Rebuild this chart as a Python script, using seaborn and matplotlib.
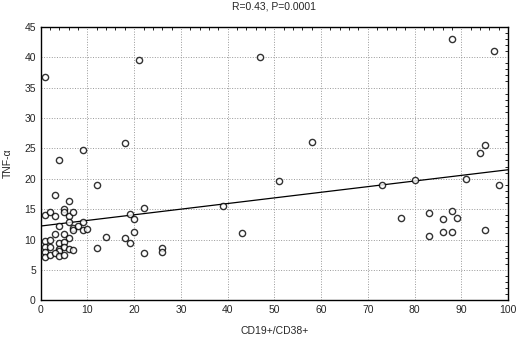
import numpy as np
import pandas as pd
import matplotlib
matplotlib.use('Agg')
import matplotlib.pyplot as plt
import seaborn as sns
from matplotlib.ticker import MultipleLocator

# CD19+/CD38+ (%) vs TNF-alpha
cd19_cd38 = [1, 21, 47, 4, 9, 18, 88, 97, 58, 95, 94,
             12, 3, 6, 1, 2, 3, 5, 5, 6, 7,
             4, 6, 7, 7, 8, 9, 9, 10,
             3, 5, 6, 1, 2, 4, 5,
             1, 2, 4, 5, 6, 7, 4,
             1, 1, 2, 3, 4, 5,
             12, 14, 18, 19, 19, 20, 20, 22, 22, 26, 26,
             39, 43, 51, 73, 80, 91, 98,
             77, 83, 88, 86, 89, 83, 86, 88, 95]
tnf_alpha = [36.7, 39.5, 40.0, 23.0, 24.7, 25.8, 43.0, 41.0, 26.0, 25.5, 24.2,
             19.0, 17.4, 16.4, 14.1, 14.5, 13.9, 15.0, 14.5, 13.9, 14.5,
             12.3, 12.8, 11.9, 11.5, 12.3, 12.8, 11.6, 11.7,
             10.9, 10.9, 10.2, 9.8, 10.0, 9.4, 9.6,
             8.8, 8.8, 8.5, 8.8, 8.5, 8.2, 8.1,
             7.9, 7.2, 7.5, 7.7, 7.3, 7.5,
             8.6, 10.4, 10.3, 9.5, 14.2, 13.4, 11.3, 15.2, 7.8, 8.6, 7.9,
             15.5, 11.0, 19.7, 19.0, 19.8, 20.0, 18.9,
             13.6, 14.4, 14.7, 13.3, 13.5, 10.6, 11.2, 11.2, 11.6]

df = pd.DataFrame({'cd': cd19_cd38, 'tnf': tnf_alpha})

sns.set_style("white")
plt.rcParams['font.family'] = ['Liberation Sans', 'DejaVu Sans']

fig = plt.figure(figsize=(5.2, 3.38), dpi=100)
ax = fig.add_axes([0.0783, 0.1115, 0.8987, 0.8095])

sns.regplot(data=df, x='cd', y='tnf', ax=ax, ci=None, truncate=False,
            scatter_kws=dict(s=20, facecolors='white', edgecolors='black',
                             linewidths=1.0, zorder=3),
            line_kws=dict(color='black', lw=0.9, zorder=2))

ax.set_xlim(0, 100)
ax.set_ylim(0, 45)
ax.xaxis.set_major_locator(MultipleLocator(10))
ax.yaxis.set_major_locator(MultipleLocator(5))
ax.xaxis.set_minor_locator(MultipleLocator(2))
ax.yaxis.set_minor_locator(MultipleLocator(1))
ax.grid(True, which='major', color='#999999', linestyle=':', linewidth=0.7)
ax.tick_params(which='both', direction='in', top=True, right=True,
               color='black', labelsize=7.5)
ax.tick_params(which='major', length=0)
ax.tick_params(which='minor', length=2, width=0.6)
for s in ax.spines.values():
    s.set_color('black')
    s.set_linewidth(1.0)

ax.set_title('R=0.43, P=0.0001', fontsize=7.5, pad=12.5)
ax.set_xlabel('CD19+/CD38+', fontsize=7.5, labelpad=8)
ax.set_ylabel('TNF-\u03b1', fontsize=7.5, labelpad=8)

fig.savefig('out.png', dpi=100)
